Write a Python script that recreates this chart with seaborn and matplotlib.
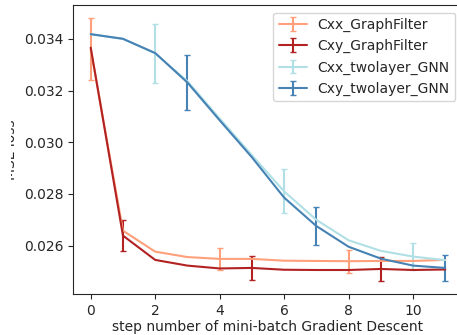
import matplotlib
matplotlib.use("Agg")
import matplotlib.pyplot as plt
from matplotlib.transforms import Bbox
import seaborn as sns
import numpy as np

steps = list(range(12))
labels = ["Cxx_GraphFilter", "Cxy_GraphFilter", "Cxx_twolayer_GNN", "Cxy_twolayer_GNN"]
colors = ["lightsalmon", "firebrick", "powderblue", "steelblue"]

cxx_gf = [0.03360, 0.02658, 0.02577, 0.02556, 0.02549, 0.02549, 0.02542, 0.02541, 0.02540, 0.02541, 0.02541, 0.02545]
cxy_gf = [0.03366, 0.02639, 0.02545, 0.02523, 0.02512, 0.02514, 0.02507, 0.02506, 0.02506, 0.02510, 0.02506, 0.02508]
cxx_gnn = [0.03418, 0.03400, 0.03344, 0.03236, 0.03092, 0.02950, 0.02810, 0.02700, 0.02621, 0.02580, 0.02558, 0.02544]
cxy_gnn = [0.03418, 0.03400, 0.03345, 0.03231, 0.03085, 0.02942, 0.02786, 0.02676, 0.02596, 0.02550, 0.02523, 0.02514]

err_cxx_gf = [0.00120, 0, 0, 0, 0.00042, 0, 0, 0, 0.00044, 0, 0, 0]
err_cxy_gf = [0, 0.00060, 0, 0, 0, 0.00045, 0, 0, 0, 0.00046, 0, 0]
err_cxx_gnn = [0, 0, 0.00115, 0, 0, 0, 0.00085, 0, 0, 0, 0.00051, 0]
err_cxy_gnn = [0, 0, 0, 0.00108, 0, 0, 0, 0.00073, 0, 0, 0, 0.00050]

series = [cxx_gf, cxy_gf, cxx_gnn, cxy_gnn]
errors = [err_cxx_gf, err_cxy_gf, err_cxx_gnn, err_cxy_gnn]
offsets = [0, 1, 2, 3]

sns.set_style("ticks")
plt.rcParams["font.family"] = ["DejaVu Sans"]
plt.rcParams["font.size"] = 10

DPI = 100
fig = plt.figure(figsize=(457 / DPI, 335 / DPI), dpi=DPI)
ax = fig.add_axes([73 / 457, 1 - 294 / 335, (463 - 73) / 457, (294 - 5) / 335])
palette = sns.color_palette(colors)

for vals, errs, lab, col, off in zip(series, errors, labels, palette, offsets):
    ax.errorbar(steps, vals, yerr=errs, errorevery=(off, 4), color=col,
                label=lab, linewidth=1.5, elinewidth=1.5, capsize=2)

ax.set_xticks([0, 2, 4, 6, 8, 10])
ax.set_yticks([0.026, 0.028, 0.030, 0.032, 0.034])
ax.set_xlabel("step number of mini-batch Gradient Descent", labelpad=1.5)
ax.set_ylabel("MSE loss")
ax.legend(loc="upper right", borderaxespad=0.55)
ax.spines["right"].set_visible(False)

lbl = ax.yaxis.label
lbl.set_clip_box(Bbox([[11, 0], [60, 335]]))
lbl.set_clip_on(True)

fig.savefig("out.png", dpi=DPI)
